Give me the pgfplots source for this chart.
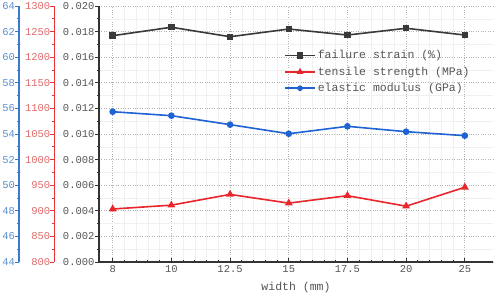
\documentclass[border=0pt]{standalone}
\usepackage{pgfplots}
\pgfplotsset{compat=1.18}
\usepackage{fontspec}
\setmainfont{Liberation Mono}
\definecolor{sblack}{HTML}{3A3A3A}
\definecolor{sred}{HTML}{E8262B}
\definecolor{sblue}{HTML}{1F62D4}
\definecolor{axblue}{HTML}{3B7AC8}
\definecolor{txblue}{HTML}{5A8ED0}
\definecolor{axred}{HTML}{E8333A}
\definecolor{txred}{HTML}{E06A6A}
\definecolor{axblack}{HTML}{333333}
\definecolor{txgray}{HTML}{555555}
\begin{document}
\begin{tikzpicture}
\pgfplotsset{
  base/.style={scale only axis, width=394pt, height=256pt, xmin=-0.233, xmax=6.48,
    /pgf/number format/assume math mode=true,
    /pgf/number format/1000 sep={},
    tick label style={font=\fontsize{10.5}{12}\selectfont},
    clip=false},
  dispaxis/.style={scale only axis, width=10pt, height=256pt, xmin=0, xmax=1,
    /pgf/number format/assume math mode=true,
    /pgf/number format/1000 sep={},
    axis y line*=left, hide x axis, minor y tick num=1,
    tick align=outside, major tick length=4pt, minor tick length=2pt,
    tick label style={font=\fontsize{10.5}{12}\selectfont},
    yticklabel style={xshift=3.5pt},
    anchor=south west},
}
% main axis (failure strain)
\begin{axis}[base,
  ymin=0, ymax=0.020,
  axis lines*=left,
  axis line style={axblack, line width=1.1pt},
  ytick={0,0.002,0.004,0.006,0.008,0.010,0.012,0.014,0.016,0.018,0.020},
  scaled y ticks=false,
  yticklabel style={/pgf/number format/fixed, /pgf/number format/precision=3, /pgf/number format/fixed zerofill, text=txgray, xshift=3pt},
  xticklabel style={text=txgray},
  xtick={0,1,2,3,4,5,6},
  xticklabels={8,10,12.5,15,17.5,20,25},
  minor x tick num=4,
  minor y tick num=1,
  x tick style={axblack, line width=0.8pt},
  y tick style={axblack, line width=0.8pt},
  xtick align=inside,
  ytick align=outside,
  major tick length=4pt, minor tick length=2.2pt,
  grid=both,
  major grid style={gray!60, dotted, line width=0.8pt},
  minor grid style={gray!12, line width=0.5pt},
  xlabel={width (mm)},
  x label style={at={(axis description cs:0.5,-0.1)}, anchor=center, font=\fontsize{11.5}{13}\selectfont, text=txgray},
  legend style={draw=none, fill=none, at={(0.462,0.842)}, anchor=north west,
    font=\fontsize{11.5}{13}\selectfont, text=txgray, row sep=2.5pt},
  legend cell align=left,
  legend image code/.code={\draw[mark repeat=2,mark phase=2,#1] plot coordinates {(0pt,0pt) (15pt,0pt) (30pt,0pt)};},
]
\addplot[sblack, line width=1.6pt, mark=square*, mark size=2.4pt] coordinates {
(0,0.01768) (1,0.01834) (2,0.01760) (3,0.01820) (4,0.01773) (5,0.01826) (6,0.01773)};
\addlegendentry{failure strain (\%)}
\addlegendimage{sred, line width=1.6pt, mark=triangle*, mark size=2.4pt}
\addlegendentry{tensile strength (MPa)}
\addlegendimage{sblue, line width=1.6pt, mark=*, mark size=2pt}
\addlegendentry{elastic modulus (GPa)}
\end{axis}
% red data
\begin{axis}[base, ymin=800, ymax=1300, hide axis]
\addplot[sred, line width=1.6pt, mark=triangle*, mark size=3pt] coordinates {
(0,903.5) (1,911) (2,932) (3,915) (4,929.5) (5,909) (6,946)};
\end{axis}
% blue data
\begin{axis}[base, ymin=44, ymax=64, hide axis]
\addplot[sblue, line width=1.6pt, mark=*, mark size=2.5pt] coordinates {
(0,55.74) (1,55.43) (2,54.73) (3,54.02) (4,54.6) (5,54.18) (6,53.87)};
\end{axis}
% red axis display
\begin{axis}[dispaxis, at={(-44.7pt,0pt)}, ymin=800, ymax=1300,
  ytick={800,850,...,1300},
  axis line style={axred, line width=1.1pt},
  y tick style={axred, line width=0.8pt},
  yticklabel style={text=txred}]
\addplot[draw=none] coordinates {(0,800)};
\end{axis}
% blue axis display
\begin{axis}[dispaxis, at={(-80pt,0pt)}, ymin=44, ymax=64,
  ytick={44,46,...,64},
  axis line style={axblue, line width=1.1pt},
  y tick style={axblue, line width=0.8pt},
  yticklabel style={text=txblue}]
\addplot[draw=none] coordinates {(0,44)};
\end{axis}
\pgfresetboundingbox
\path[use as bounding box] (-99pt,-34pt) rectangle (399pt,262pt);
\end{tikzpicture}
\end{document}
